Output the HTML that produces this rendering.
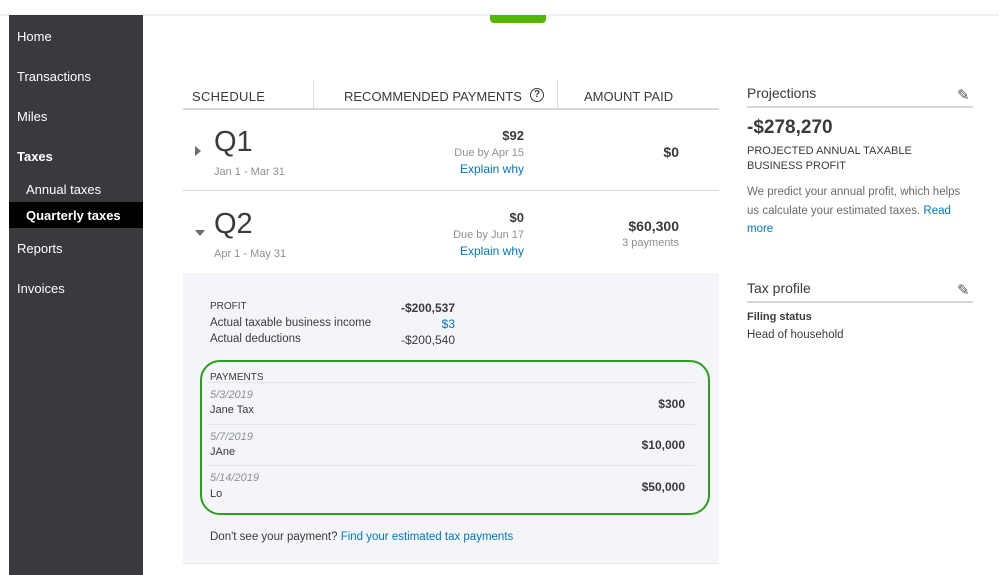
<!DOCTYPE html>
<html><head><style>
body{margin:0;width:999px;height:575px;background:#fff;position:relative;overflow:hidden;font-family:"Liberation Sans",sans-serif;color:#393a3d}
.a{position:absolute;white-space:nowrap}
.nav{color:#fff;font-size:13px}
.hd{font-size:13px;letter-spacing:.3px;color:#393a3d}
.g{color:#8d9096}
.b{color:#0077c5}
.r{text-align:right}
</style></head><body>
<div class="a" style="left:0;top:14px;width:999px;height:2px;background:#f3f3f3"></div>
<div class="a" style="left:9px;top:15px;width:134px;height:560px;background:#393a3d"></div>
<div class="a" style="left:9px;top:202px;width:134px;height:26px;background:#000"></div>
<div class="a nav" style="left:17px;top:29px">Home</div>
<div class="a nav" style="left:17px;top:69px">Transactions</div>
<div class="a nav" style="left:17px;top:109px">Miles</div>
<div class="a nav" style="left:17px;top:149px;font-weight:bold">Taxes</div>
<div class="a nav" style="left:26px;top:182px">Annual taxes</div>
<div class="a nav" style="left:26px;top:208px;font-weight:bold">Quarterly taxes</div>
<div class="a nav" style="left:17px;top:241px">Reports</div>
<div class="a nav" style="left:17px;top:281px">Invoices</div>
<div class="a" style="left:490px;top:15px;width:56px;height:8px;background:#53b700;border-radius:0 0 4px 4px"></div>

<div class="a hd" style="left:192px;top:89px">SCHEDULE</div>
<div class="a" style="left:313px;top:80px;width:1px;height:29px;background:#ddd"></div>
<div class="a hd" style="left:344px;top:89px;letter-spacing:0">RECOMMENDED PAYMENTS</div>
<div class="a" style="left:530px;top:88px;width:12px;height:12px;border:1.5px solid #393a3d;border-radius:50%;font-size:10px;text-align:center;line-height:12px;font-weight:bold">?</div>
<div class="a" style="left:557px;top:80px;width:1px;height:29px;background:#ddd"></div>
<div class="a hd" style="left:584px;top:89px;letter-spacing:0">AMOUNT PAID</div>
<div class="a" style="left:183px;top:108px;width:536px;height:2px;background:#d4d7dc"></div>

<div class="a" style="left:195px;top:146px;width:0;height:0;border-top:5px solid transparent;border-bottom:5px solid transparent;border-left:6px solid #6b6c72"></div>
<div class="a" style="left:214px;top:126px;font-size:29px">Q1</div>
<div class="a g" style="left:214px;top:166px;font-size:11px">Jan 1 - Mar 31</div>
<div class="a r" style="left:424px;top:128px;width:100px;font-size:13px;font-weight:bold">$92</div>
<div class="a g r" style="left:424px;top:147px;width:100px;font-size:11px">Due by Apr 15</div>
<div class="a b r" style="left:424px;top:162px;width:100px;font-size:12px">Explain why</div>
<div class="a r" style="left:580px;top:144px;width:99px;font-size:14px;font-weight:bold">$0</div>
<div class="a" style="left:183px;top:190px;width:536px;height:1px;background:#d4d7dc"></div>

<div class="a" style="left:195px;top:230px;width:0;height:0;border-left:5px solid transparent;border-right:5px solid transparent;border-top:6px solid #6b6c72"></div>
<div class="a" style="left:214px;top:208px;font-size:29px">Q2</div>
<div class="a g" style="left:214px;top:248px;font-size:11px">Apr 1 - May 31</div>
<div class="a r" style="left:424px;top:210px;width:100px;font-size:13px;font-weight:bold">$0</div>
<div class="a g r" style="left:424px;top:229px;width:100px;font-size:11px">Due by Jun 17</div>
<div class="a b r" style="left:424px;top:244px;width:100px;font-size:12px">Explain why</div>
<div class="a r" style="left:560px;top:218px;width:119px;font-size:14px;font-weight:bold">$60,300</div>
<div class="a g r" style="left:560px;top:237px;width:119px;font-size:11px">3 payments</div>

<div class="a" style="left:183px;top:273px;width:536px;height:290px;background:#f4f5f8;border-bottom:1px solid #e8e8e8"></div>
<div class="a" style="left:210px;top:301px;font-size:10px">PROFIT</div>
<div class="a r" style="left:360px;top:301px;width:95px;font-size:12px;font-weight:bold">-$200,537</div>
<div class="a" style="left:210px;top:317px;font-size:11.5px">Actual taxable business income</div>
<div class="a b r" style="left:360px;top:317px;width:95px;font-size:12px">$3</div>
<div class="a" style="left:210px;top:333px;font-size:11.5px">Actual deductions</div>
<div class="a r" style="left:360px;top:333px;width:95px;font-size:12px">-$200,540</div>
<div class="a" style="left:200px;top:360px;width:506px;height:151px;border:2px solid #2ca01c;border-radius:20px"></div>
<div class="a" style="left:210px;top:372px;font-size:10px">PAYMENTS</div>
<div class="a" style="left:208px;top:382px;width:487px;height:1px;background:#e4e5e8"></div>
<div class="a g" style="left:210px;top:389px;font-size:11px;font-style:italic">5/3/2019</div>
<div class="a" style="left:210px;top:404px;font-size:11px">Jane Tax</div>
<div class="a r" style="left:580px;top:397px;width:105px;font-size:12px;font-weight:bold">$300</div>
<div class="a" style="left:208px;top:424px;width:487px;height:1px;background:#e4e5e8"></div>
<div class="a g" style="left:210px;top:431px;font-size:11px;font-style:italic">5/7/2019</div>
<div class="a" style="left:210px;top:446px;font-size:11px">JAne</div>
<div class="a r" style="left:580px;top:438px;width:105px;font-size:12px;font-weight:bold">$10,000</div>
<div class="a" style="left:208px;top:465px;width:487px;height:1px;background:#e4e5e8"></div>
<div class="a g" style="left:210px;top:472px;font-size:11px;font-style:italic">5/14/2019</div>
<div class="a" style="left:210px;top:488px;font-size:11px">Lo</div>
<div class="a r" style="left:580px;top:480px;width:105px;font-size:12px;font-weight:bold">$50,000</div>
<div class="a" style="left:210px;top:531px;font-size:11.5px">Don't see your payment? <span class="b">Find your estimated tax payments</span></div>

<div class="a" style="left:747px;top:85px;font-size:14px">Projections</div>
<div class="a" style="left:957px;top:86px;font-size:15px;color:#555">&#9998;</div>
<div class="a" style="left:747px;top:106px;width:226px;height:2px;background:#d4d7dc"></div>
<div class="a" style="left:747px;top:117px;font-size:19px;font-weight:bold">-$278,270</div>
<div class="a" style="left:747px;top:144px;font-size:11px;line-height:15px">PROJECTED ANNUAL TAXABLE<br>BUSINESS PROFIT</div>
<div class="a g" style="left:747px;top:183px;font-size:11.5px;line-height:18.5px;color:#6b6c72">We predict your annual profit, which helps<br>us calculate your estimated taxes. <span class="b">Read</span><br><span class="b">more</span></div>
<div class="a" style="left:747px;top:280px;font-size:14px">Tax profile</div>
<div class="a" style="left:957px;top:281px;font-size:15px;color:#555">&#9998;</div>
<div class="a" style="left:747px;top:301px;width:226px;height:2px;background:#d4d7dc"></div>
<div class="a" style="left:747px;top:311px;font-size:11px;font-weight:bold">Filing status</div>
<div class="a" style="left:747px;top:329px;font-size:11.5px">Head of household</div>
</body></html>
